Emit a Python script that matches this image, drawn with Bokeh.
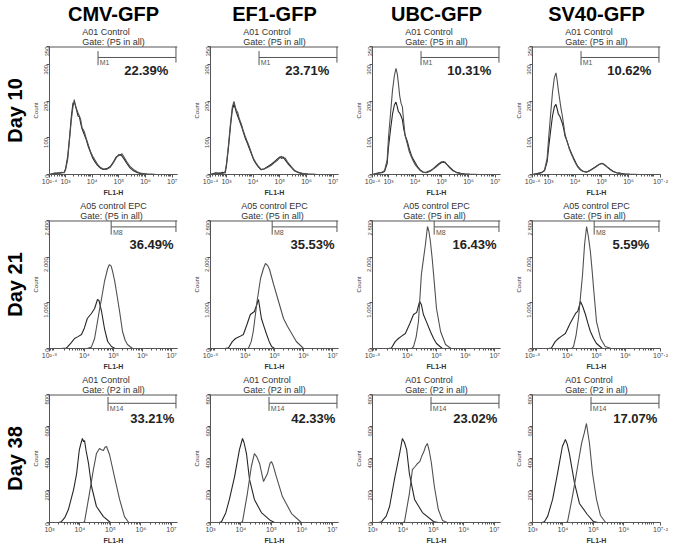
import math
from bokeh.plotting import figure
from bokeh.models import Range1d, FixedTicker, LinearAxis, Title, Label, Span
from bokeh.layouts import row, column
from bokeh.embed import file_html
from bokeh.resources import INLINE

# ---------------- data ----------------
promoters = ["CMV-GFP", "EF1-GFP", "UBC-GFP", "SV40-GFP"]
days = ["Day 10", "Day 21", "Day 38"]
sample_names = ["A01 Control", "A05 control EPC", "A01 Control"]
gate_names = ["Gate: (P5 in all)", "Gate: (P5 in all)", "Gate: (P2 in all)"]
marker_names = ["M1", "M8", "M14"]
percents = [["22.39%", "23.71%", "10.31%", "10.62%"],
            ["36.49%", "35.53%", "16.43%", "5.59%"],
            ["33.21%", "42.33%", "23.02%", "17.07%"]]

fl1_lo = [2.4, 2.8, 3.0]          # log10 FL1-H axis start per day
fl1_hi = 7.2
count_max = [350, 2800, 800]
count_ticks = [[0, 100, 200, 300, 350], [0, 1000, 2000, 2800], [0, 200, 400, 600, 800]]
count_tick_labels = [["0", "100", "200", "300", "350"],
                     ["0", "1,000", "2,000", "2,800"],
                     ["0", "200", "400", "600", "800"]]
fl1_ticks = [[2.4, 3, 4, 5, 6, 7], [2.8, 4, 5, 6, 7], [3, 4, 5, 6, 7]]
gate_start = [4.22, 4.92, 4.92]   # log10 FL1-H
gate_level = [320, 2660, 745]     # counts

# Day 10: shared log10 FL1-H grid, two overlaid histograms per promoter
d10_x = [2.4, 2.6, 2.75, 2.85, 2.95, 3.0, 3.08, 3.15, 3.22, 3.28, 3.33, 3.37, 3.42, 3.47,
         3.52, 3.57, 3.62, 3.7, 3.78, 3.86, 3.94, 4.02, 4.1, 4.2, 4.3, 4.42, 4.55, 4.68,
         4.8, 4.9, 5.0, 5.06, 5.12, 5.2, 5.3, 5.42, 5.55, 5.7, 5.85, 6.05, 6.4, 7.2]
d10_cmv_a = [0, 4, 2, 6, 5, 12, 40, 95, 150, 185, 205, 188, 178, 168, 160, 150, 128, 118, 98,
             80, 62, 50, 40, 28, 20, 15, 14, 20, 32, 45, 55, 52, 57, 47, 35, 22, 14, 7, 3, 1, 0, 0]
d10_cmv_b = [0, 3, 5, 4, 6, 15, 48, 100, 160, 195, 198, 190, 175, 160, 158, 140, 125, 110, 95,
             75, 60, 45, 35, 25, 18, 14, 16, 22, 35, 48, 52, 55, 50, 42, 30, 18, 10, 5, 2, 1, 0, 0]
d10_ef1_a = [0, 3, 5, 2, 8, 30, 85, 140, 185, 200, 185, 175, 170, 155, 145, 135, 122, 105, 90,
             75, 58, 42, 33, 22, 14, 15, 20, 25, 33, 38, 46, 50, 44, 45, 33, 22, 11, 6, 3, 1, 0, 0]
d10_ef1_b = [0, 5, 2, 6, 4, 25, 78, 132, 178, 192, 180, 170, 160, 150, 140, 130, 118, 100, 86,
             70, 55, 40, 30, 20, 13, 16, 22, 28, 35, 42, 48, 44, 48, 40, 30, 20, 10, 5, 2, 1, 0, 0]
d10_ubc_a = [0, 3, 6, 10, 40, 101, 170, 230, 270, 290, 275, 250, 215, 195, 185, 145, 108, 85,
             62, 48, 35, 25, 18, 10, 6, 5, 8, 15, 22, 28, 33, 36, 32, 27, 20, 12, 5, 3, 2, 1, 0, 0]
d10_ubc_b = [0, 4, 5, 8, 30, 75, 125, 165, 190, 198, 185, 172, 168, 160, 150, 125, 108, 92, 70,
             52, 40, 30, 20, 12, 7, 6, 10, 16, 24, 30, 35, 33, 34, 26, 18, 10, 6, 3, 1, 0, 0, 0]
d10_sv40_a = [0, 2, 5, 12, 45, 95, 165, 225, 265, 278, 255, 230, 205, 180, 160, 135, 110, 90,
              70, 55, 42, 30, 20, 12, 8, 6, 10, 16, 22, 28, 30, 28, 25, 20, 14, 8, 5, 3, 2, 1, 0, 0]
d10_sv40_b = [0, 3, 6, 10, 35, 70, 120, 160, 185, 192, 178, 165, 160, 150, 140, 125, 105, 90,
              72, 58, 45, 33, 22, 14, 9, 7, 11, 17, 23, 27, 31, 29, 26, 21, 15, 9, 5, 3, 1, 0, 0, 0]

# Day 21: control (left) and GFP (right) histograms
d21_cmv_ctrl_x = [2.8, 3.2, 3.38, 3.55, 3.66, 3.78, 3.9, 4.0, 4.1, 4.24, 4.35, 4.45, 4.5, 4.59,
                  4.69, 4.8, 4.93, 5.05, 5.5, 7.2]
d21_cmv_ctrl_y = [0, 0, 10, 130, 219, 260, 306, 450, 656, 766, 875, 1072, 1050, 810, 437, 153,
                  44, 0, 0, 0]
d21_cmv_gfp_x = [2.8, 4.1, 4.24, 4.35, 4.45, 4.52, 4.59, 4.69, 4.8, 4.86, 4.92, 4.97, 5.04, 5.1,
                 5.21, 5.31, 5.4, 5.48, 5.65, 7.2]
d21_cmv_gfp_y = [0, 0, 30, 219, 590, 850, 1094, 1466, 1750, 1837, 1800, 1684, 1480, 1247, 810,
                 372, 180, 88, 0, 0]
d21_ef1_ctrl_x = [2.8, 3.3, 3.42, 3.55, 3.66, 3.8, 3.93, 4.05, 4.17, 4.31, 4.4, 4.45, 4.55, 4.64,
                  4.73, 4.82, 4.9, 5.0, 7.2]
d21_ef1_ctrl_y = [0, 0, 15, 150, 219, 260, 306, 520, 744, 810, 980, 1072, 656, 480, 306, 150,
                  44, 0, 0]
d21_ef1_gfp_x = [2.8, 4.1, 4.2, 4.27, 4.4, 4.52, 4.62, 4.69, 4.76, 4.83, 4.97, 5.14, 5.31, 5.45,
                 5.55, 5.75, 6.0, 7.2]
d21_ef1_gfp_y = [0, 0, 150, 372, 1028, 1531, 1750, 1860, 1820, 1728, 1400, 1028, 656, 480, 372,
                 153, 0, 0]
d21_ubc_ctrl_x = [2.8, 3.35, 3.45, 3.58, 3.69, 3.8, 3.93, 4.08, 4.21, 4.32, 4.42, 4.48, 4.55,
                  4.67, 4.79, 4.9, 5.0, 5.2, 7.2]
d21_ubc_ctrl_y = [0, 0, 10, 150, 219, 270, 328, 540, 744, 790, 1028, 960, 744, 560, 372, 220,
                  109, 0, 0]
d21_ubc_gfp_x = [2.8, 4.15, 4.21, 4.3, 4.38, 4.48, 4.55, 4.62, 4.69, 4.74, 4.79, 4.85, 4.9, 5.0,
                 5.14, 5.31, 5.5, 7.2]
d21_ubc_gfp_y = [0, 0, 40, 250, 590, 1619, 1950, 2275, 2669, 2560, 2340, 1980, 1619, 875, 372,
                 88, 0, 0]
d21_sv40_ctrl_x = [2.8, 3.35, 3.45, 3.58, 3.69, 3.8, 3.93, 4.1, 4.28, 4.36, 4.45, 4.52, 4.62,
                   4.7, 4.79, 4.9, 5.0, 5.2, 7.2]
d21_sv40_ctrl_y = [0, 0, 10, 150, 219, 270, 328, 560, 766, 820, 1028, 930, 744, 560, 372, 220,
                   109, 0, 0]
d21_sv40_gfp_x = [2.8, 4.15, 4.21, 4.3, 4.38, 4.52, 4.59, 4.66, 4.72, 4.79, 4.85, 4.9, 5.0,
                  5.14, 5.3, 5.5, 7.2]
d21_sv40_gfp_y = [0, 0, 40, 300, 656, 1619, 2275, 2669, 2450, 2122, 1700, 1312, 590, 219, 44,
                  0, 0]

# Day 38
d38_cmv_ctrl_x = [3.0, 3.3, 3.39, 3.5, 3.62, 3.79, 3.89, 3.98, 4.04, 4.08, 4.12, 4.15, 4.2, 4.28,
                  4.38, 4.54, 4.77, 5.0, 7.2]
d38_cmv_ctrl_y = [0, 0, 5, 30, 81, 206, 306, 456, 500, 525, 505, 512, 450, 369, 225, 100, 37,
                  0, 0]
d38_cmv_gfp_x = [3.0, 4.1, 4.15, 4.31, 4.44, 4.54, 4.64, 4.7, 4.77, 4.82, 4.87, 4.97, 5.13, 5.3,
                 5.46, 5.6, 7.2]
d38_cmv_gfp_y = [0, 0, 5, 181, 331, 431, 462, 455, 450, 470, 475, 425, 287, 144, 37, 0, 0]
d38_ef1_ctrl_x = [3.0, 3.28, 3.36, 3.5, 3.62, 3.79, 3.95, 4.05, 4.1, 4.18, 4.28, 4.44, 4.67,
                  4.97, 5.1, 7.2]
d38_ef1_ctrl_y = [0, 0, 5, 60, 144, 287, 456, 525, 500, 431, 269, 144, 62, 12, 0, 0]
d38_ef1_gfp_x = [3.0, 4.0, 4.05, 4.21, 4.34, 4.44, 4.52, 4.61, 4.74, 4.87, 4.95, 5.0, 5.05,
                 5.16, 5.36, 5.66, 5.98, 7.2]
d38_ef1_gfp_y = [0, 0, 5, 181, 350, 431, 410, 369, 256, 306, 370, 381, 360, 287, 162, 56, 0, 0]
d38_ubc_ctrl_x = [3.0, 3.2, 3.3, 3.45, 3.56, 3.72, 3.89, 3.98, 4.05, 4.12, 4.21, 4.38, 4.64,
                  5.0, 5.15, 7.2]
d38_ubc_ctrl_y = [0, 0, 5, 40, 100, 269, 431, 525, 500, 456, 306, 144, 62, 6, 0, 0]
d38_ubc_gfp_x = [3.0, 4.0, 4.05, 4.21, 4.31, 4.4, 4.48, 4.55, 4.61, 4.68, 4.74, 4.8, 4.86, 4.93,
                 5.03, 5.16, 5.3, 5.45, 7.2]
d38_ubc_gfp_y = [0, 0, 5, 181, 331, 350, 369, 380, 412, 440, 475, 494, 450, 375, 225, 81, 12,
                 0, 0]
d38_sv40_ctrl_x = [3.0, 3.3, 3.39, 3.5, 3.66, 3.82, 3.98, 4.08, 4.14, 4.21, 4.38, 4.54, 4.8,
                   5.0, 5.15, 7.2]
d38_sv40_ctrl_y = [0, 0, 5, 40, 144, 306, 475, 519, 490, 431, 244, 119, 50, 6, 0, 0]
d38_sv40_gfp_x = [3.0, 4.1, 4.15, 4.31, 4.4, 4.48, 4.61, 4.7, 4.77, 4.87, 4.97, 5.1, 5.23, 5.4,
                  7.2]
d38_sv40_gfp_y = [0, 0, 5, 162, 260, 350, 494, 560, 619, 494, 306, 144, 44, 0, 0]

curves = [
    [(d10_x, d10_cmv_b, d10_x, d10_cmv_a), (d10_x, d10_ef1_b, d10_x, d10_ef1_a),
     (d10_x, d10_ubc_b, d10_x, d10_ubc_a), (d10_x, d10_sv40_b, d10_x, d10_sv40_a)],
    [(d21_cmv_ctrl_x, d21_cmv_ctrl_y, d21_cmv_gfp_x, d21_cmv_gfp_y),
     (d21_ef1_ctrl_x, d21_ef1_ctrl_y, d21_ef1_gfp_x, d21_ef1_gfp_y),
     (d21_ubc_ctrl_x, d21_ubc_ctrl_y, d21_ubc_gfp_x, d21_ubc_gfp_y),
     (d21_sv40_ctrl_x, d21_sv40_ctrl_y, d21_sv40_gfp_x, d21_sv40_gfp_y)],
    [(d38_cmv_ctrl_x, d38_cmv_ctrl_y, d38_cmv_gfp_x, d38_cmv_gfp_y),
     (d38_ef1_ctrl_x, d38_ef1_ctrl_y, d38_ef1_gfp_x, d38_ef1_gfp_y),
     (d38_ubc_ctrl_x, d38_ubc_ctrl_y, d38_ubc_gfp_x, d38_ubc_gfp_y),
     (d38_sv40_ctrl_x, d38_sv40_ctrl_y, d38_sv40_gfp_x, d38_sv40_gfp_y)],
]

# ---------------- styling / layout ----------------
FONT = "Liberation Sans"
FRAME = 128
LEFT_BORDER = [49, 29, 30, 28]
RIGHT_BORDER = [4, 4, 4, 8]
SUP = str.maketrans("0123456789.", "⁰¹²³⁴⁵⁶⁷⁸⁹·")
PCT_X_OFFSET = [2.8, 2.75, 2.65]   # decades from axis start


def fl1_label(v):
    return "10" + ("%g" % v).translate(SUP)


def minor_ticks(lo, hi):
    out = []
    for d in range(2, 8):
        for k in range(2, 10):
            t = d + math.log10(k)
            if lo < t < hi:
                out.append(t)
    return out


def panel(r, c):
    lo, ym = fl1_lo[r], count_max[r]
    p = figure(frame_width=FRAME, frame_height=FRAME, title=None,
               x_range=Range1d(lo, fl1_hi), y_range=Range1d(0, ym),
               output_backend="svg", toolbar_location=None,
               min_border_left=LEFT_BORDER[c], min_border_right=RIGHT_BORDER[c],
               min_border_top=0, min_border_bottom=0)
    p.grid.visible = False
    p.outline_line_color = None
    p.background_fill_color = "white"
    p.border_fill_color = "white"

    cx, cy, gx, gy = curves[r][c]
    p.line(cx, cy, line_color="#262626", line_width=1.1)
    p.line(gx, gy, line_color="#505050", line_width=1.1)

    # top frame edge
    p.add_layout(Span(location=ym, dimension="width", line_color="#555555", line_width=2))

    # gate marker
    g0, gl = gate_start[r], gate_level[r]
    xe = fl1_hi - 0.012 * (fl1_hi - lo)
    p.segment(x0=[g0, g0, xe], y0=[gl + 0.05 * ym, gl, ym], x1=[g0, xe, xe],
              y1=[gl - 0.06 * ym, gl, gl - 0.04 * ym], line_color="#555555", line_width=1)
    p.add_layout(Label(x=g0 + 0.06, y=gl - 0.015 * ym, text=marker_names[r], text_font=FONT,
                       text_font_size="7px", text_color="#555555", text_baseline="top"))
    p.add_layout(Label(x=lo + PCT_X_OFFSET[r], y=0.815 * ym, text=percents[r][c], text_font=FONT,
                       text_font_size="13px", text_font_style="bold", text_color="#222222",
                       text_baseline="alphabetic", text_align="left"))

    # axes
    xt = list(fl1_ticks[r])
    if c == 3:
        xt[-1] = 7.2
    xa = p.xaxis[0]
    xa.ticker = FixedTicker(ticks=xt, minor_ticks=minor_ticks(lo, fl1_hi))
    xa.major_label_overrides = {t: fl1_label(t) for t in xt}
    xa.axis_label = "FL1-H"
    ya = p.yaxis[0]
    ya.ticker = FixedTicker(ticks=count_ticks[r])
    ya.major_label_overrides = dict(zip(count_ticks[r], count_tick_labels[r]))
    ya.major_label_orientation = math.pi / 2
    ya.axis_label = "Count"
    for ax in (xa, ya):
        ax.axis_line_color = "#555555"
        ax.major_tick_line_color = "#555555"
        ax.minor_tick_line_color = "#555555"
        ax.major_tick_out = 3
        ax.major_tick_in = 0
        ax.minor_tick_out = 2
        ax.minor_tick_in = 0
        ax.major_label_text_font = FONT
        ax.major_label_text_font_size = "7px"
        ax.major_label_text_color = "#444444"
        ax.major_label_standoff = 0
        ax.axis_label_text_font = FONT
        ax.axis_label_text_color = "#333333"
        ax.axis_label_standoff = 1
    xa.axis_label_text_font_size = "7px"
    xa.axis_label_text_font_style = "bold"
    ya.major_label_text_font_size = "6px"
    ya.axis_label_text_font_size = "6px"
    ya.axis_label_text_font_style = "normal"

    if c == 0:
        day_axis = LinearAxis(axis_label=days[r], ticker=FixedTicker(ticks=[]),
                              axis_line_color=None, major_tick_line_color=None,
                              minor_tick_line_color=None, major_label_text_font_size="0px",
                              axis_label_text_font=FONT, axis_label_text_font_size="20px",
                              axis_label_text_font_style="bold", axis_label_text_color="black",
                              axis_label_standoff=4)
        p.add_layout(day_axis, "left")

    # titles above the frame (closest first)
    p.add_layout(Title(text=sample_names[r] + "\n" + gate_names[r], align="center",
                       text_font=FONT, text_font_size="9px", text_line_height=1.0,
                       text_font_style="normal", text_color="#333333", standoff=0), "above")
    if r == 0:
        p.add_layout(Title(text=promoters[c], align="center", text_font=FONT,
                           text_font_size="20px", text_font_style="bold", text_color="black",
                           text_line_height=1.0, standoff=0), "above")
    return p


rows = [row(*[panel(r, c) for c in range(4)]) for r in range(3)]
layout = column(*rows)

open("out.html", "w").write(file_html(layout, INLINE))
